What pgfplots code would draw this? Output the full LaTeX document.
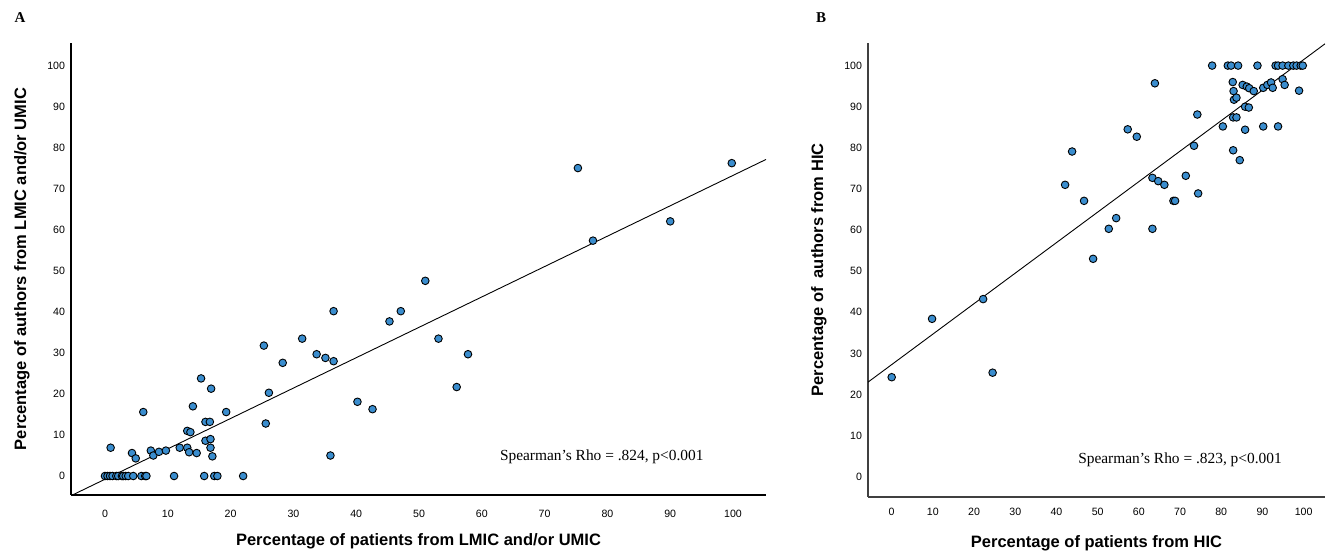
\documentclass[border=0pt]{standalone}
\usepackage{pgfplots}
\pgfplotsset{compat=1.18}
\usepackage{fontspec}
\setmainfont{Liberation Sans}
\newfontfamily\timesfont{Liberation Serif}
\definecolor{dotblue}{RGB}{58,141,206}

\pgfplotstableread{
x y
0 0
0.4 0
0.8 0
1.2 0
1.8 0
2.1 0
2.7 0
2.9 0
3.3 0
3.7 0
4.5 0
5.8 0
6.4 0
6.6 0
11.0 0
15.8 0
17.4 0
17.9 0
22.0 0
0.9 6.9
4.3 5.6
4.9 4.3
6.1 15.6
7.3 6.2
7.7 5.0
8.6 5.9
9.7 6.2
11.9 6.9
13.1 6.9
13.4 5.8
14.6 5.6
13.1 11.0
13.6 10.7
14.0 17.0
15.3 23.8
16.0 8.6
16.8 9.0
16.8 6.9
17.1 4.8
16.0 13.2
16.7 13.2
16.9 21.3
19.3 15.6
25.6 12.8
26.1 20.3
25.3 31.8
28.3 27.6
31.4 33.5
33.7 29.7
35.1 28.8
36.4 28.0
36.4 40.2
35.9 5.0
40.2 18.1
42.6 16.3
45.3 37.7
47.1 40.2
51.0 47.6
53.1 33.5
56.0 21.7
57.8 29.7
75.3 75.1
77.7 57.4
90.0 62.1
99.8 76.3
}\dataA

\pgfplotstableread{
x y
77.8 100
81.6 100
82.4 100
84.1 100
88.8 100
93.2 100
93.8 100
94.9 100
96.3 100
97.5 100
98.3 100
99.3 100
99.8 100
63.9 95.7
82.8 96.0
83.0 93.8
83.1 91.7
83.7 92.2
85.2 95.3
86.2 94.9
86.8 94.5
87.9 93.8
90.2 94.6
91.2 95.3
92.1 95.9
92.5 94.6
94.9 96.7
95.4 95.3
98.9 93.9
74.2 88.1
82.9 87.4
83.7 87.4
85.8 90.0
86.7 89.8
80.4 85.2
85.8 84.4
90.2 85.2
93.8 85.2
57.3 84.5
59.5 82.7
43.8 79.1
73.4 80.5
82.9 79.4
84.5 77.0
42.1 71.0
63.3 72.7
64.7 71.9
66.2 71.0
71.4 73.2
74.4 68.9
46.7 67.1
68.4 67.1
68.8 67.1
54.5 62.9
52.7 60.3
63.3 60.3
48.9 53.0
22.2 43.2
9.8 38.4
24.5 25.3
0.0 24.2
}\dataB

\pgfplotsset{
  spss/.style={
    scale only axis,
    axis x line*=bottom,
    axis y line*=left,
    major tick length=0pt,
    xtick={0,10,...,100},
    ytick={0,10,...,100},
    tick label style={font=\fontsize{10.6}{12}\selectfont},
    /pgf/number format/assume math mode=true,
    yticklabel style={xshift=-2.5pt},
    xlabel style={font=\fontsize{16.5}{19}\selectfont\bfseries, at={(axis description cs:0.5,0)}, anchor=center, yshift=-46pt},
    ylabel style={font=\fontsize{16.5}{19}\selectfont\bfseries, at={(axis description cs:0,0.5)}, anchor=center, yshift=49pt},
  },
  dots/.style={only marks, mark=*, mark size=3.8pt, mark options={fill=dotblue, draw=black, line width=0.9pt}},
}

\begin{document}
\begin{tikzpicture}[x=1pt,y=1pt]
\path[use as bounding box] (0,0) rectangle (1327,553);
\node[font=\timesfont\bfseries\fontsize{15}{18}\selectfont] at (20,535) {A};
\node[font=\timesfont\bfseries\fontsize{15}{18}\selectfont] at (821,535) {B};

\begin{axis}[spss,
  at={(71pt,58pt)}, anchor=south west,
  width=695pt, height=452pt,
  xmin=-5.41, xmax=105.25, ymin=-4.63, ymax=105.6,
  axis line style={black, line width=1.4pt},
  xticklabel style={yshift=-12pt},
  xlabel={Percentage of patients from LMIC and/or UMIC},
  ylabel={Percentage of authors from LMIC and/or UMIC},
]
\addplot[black, line width=0.9pt] coordinates {(-5.41,-4.8) (105.25,77.2)};
\addplot[dots] table[x=x,y=y] {\dataA};
\node[font=\timesfont\fontsize{15.4}{18}\selectfont] at (axis cs:79.1,4.6) {Spearman’s Rho = .824, p<0.001};
\end{axis}

\begin{axis}[spss,
  at={(868pt,56pt)}, anchor=south west,
  width=457pt, height=454pt,
  xmin=-5.75, xmax=105.2, ymin=-4.94, ymax=105.5,
  axis line style={black!75, line width=1.4pt},
  xticklabel style={yshift=-8pt},
  xlabel={Percentage of patients from HIC},
  ylabel={Percentage of\ \ authors from HIC},
]
\addplot[black, line width=0.9pt] coordinates {(-5.75,23.0) (105.2,105.3)};
\addplot[dots] table[x=x,y=y] {\dataB};
\node[font=\timesfont\fontsize{15.4}{18}\selectfont] at (axis cs:70.0,4.1) {Spearman’s Rho = .823, p<0.001};
\end{axis}
\end{tikzpicture}
\end{document}
